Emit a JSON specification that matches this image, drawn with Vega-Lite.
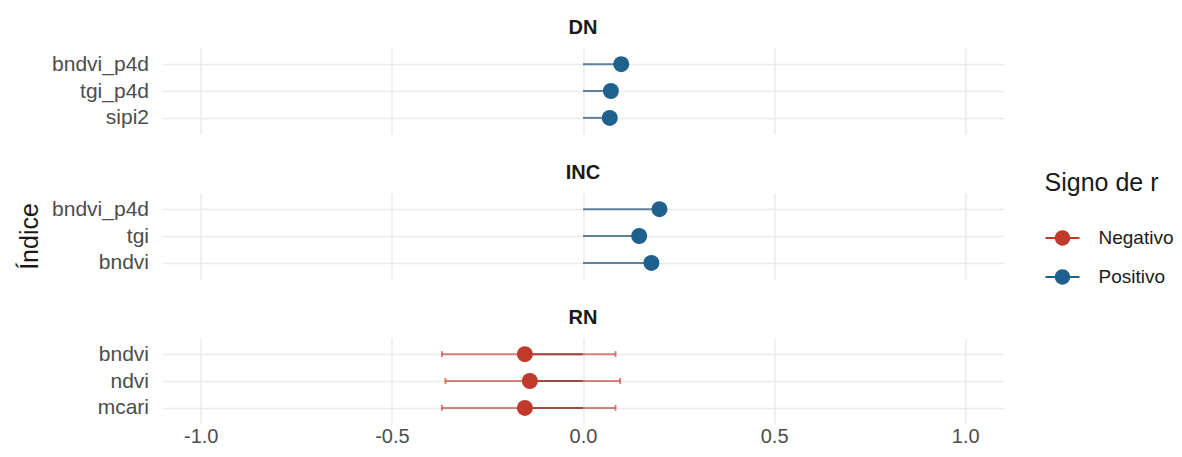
{
  "$schema": "https://vega.github.io/schema/vega-lite/v6.json",
  "padding": {"top": 18, "left": 17.5, "right": 5, "bottom": 5},
  "background": "white",
  "config": {
    "font": "Liberation Sans",
    "view": {"stroke": null},
    "title": {"fontSize": 20, "fontWeight": "bold", "color": "#1a1a1a", "anchor": "middle", "offset": 10},
    "axis": {"labelFont": "Liberation Sans", "titleFont": "Liberation Sans"}
  },
  "datasets": {
    "rows": [
      {"panel": "DN", "indice": "bndvi_p4d", "ord": 1, "r": 0.100, "lo": null, "hi": null, "signo": "Positivo"},
      {"panel": "DN", "indice": "tgi_p4d", "ord": 2, "r": 0.073, "lo": null, "hi": null, "signo": "Positivo"},
      {"panel": "DN", "indice": "sipi2", "ord": 3, "r": 0.070, "lo": null, "hi": null, "signo": "Positivo"},
      {"panel": "INC", "indice": "bndvi_p4d", "ord": 1, "r": 0.200, "lo": null, "hi": null, "signo": "Positivo"},
      {"panel": "INC", "indice": "tgi", "ord": 2, "r": 0.147, "lo": null, "hi": null, "signo": "Positivo"},
      {"panel": "INC", "indice": "bndvi", "ord": 3, "r": 0.179, "lo": null, "hi": null, "signo": "Positivo"},
      {"panel": "RN", "indice": "bndvi", "ord": 1, "r": -0.152, "lo": -0.369, "hi": 0.085, "signo": "Negativo"},
      {"panel": "RN", "indice": "ndvi", "ord": 2, "r": -0.139, "lo": -0.360, "hi": 0.097, "signo": "Negativo"},
      {"panel": "RN", "indice": "mcari", "ord": 3, "r": -0.152, "lo": -0.369, "hi": 0.085, "signo": "Negativo"}
    ]
  },
  "data": {"name": "rows"},
  "bounds": "flush",
  "spacing": 59,
  "resolve": {"scale": {"x": "shared", "y": "independent", "color": "independent"}, "legend": {"color": "independent"}},
  "vconcat": [
    {
      "title": "DN",
      "width": 841, "height": 86,
      "transform": [{"filter": "datum.panel === 'DN'"}],
      "encoding": {
        "y": {"field": "indice", "type": "nominal", "sort": {"field": "ord", "op": "min"}, "scale": {"type": "point", "padding": 0.6},
              "axis": {"title": null, "ticks": false, "domain": false, "labelFontSize": 21, "labelColor": "#4d4d4d", "labelPadding": 14, "grid": true, "gridColor": "#ebebeb", "gridWidth": 1.5}}
      },
      "layer": [
        {
          "mark": {"type": "rule", "strokeWidth": 2, "color": "#5d8199"},
          "encoding": {
            "x": {"field": "r", "type": "quantitative", "scale": {"domain": [-1.1, 1.1], "nice": false, "zero": false},
                  "axis": {"title": null, "labels": false, "ticks": false, "domain": false, "values": [-1, -0.5, 0, 0.5, 1], "grid": true, "gridColor": "#ebebeb", "gridWidth": 1.5}},
            "x2": {"datum": 0}
          }
        },
        {
          "mark": {"type": "point", "filled": true, "opacity": 1, "size": 256},
          "encoding": {
            "x": {"field": "r", "type": "quantitative"},
            "color": {"field": "signo", "type": "nominal", "scale": {"domain": ["Negativo", "Positivo"], "range": ["#C0392B", "#1F618D"]},
                      "legend": {"title": "Signo de r", "orient": "none", "legendX": 882, "legendY": 123, "titleFontSize": 25, "titleFontWeight": "normal", "titleColor": "#1a1a1a", "titlePadding": 24, "labelFontSize": 19, "labelColor": "#1a1a1a", "labelOffset": 18, "rowPadding": 11, "symbolSize": 1156, "symbolOpacity": 1, "symbolType": "M-1,-0.06H1V0.06H-1Z M0.45,0A0.45,0.45,0,1,1,-0.45,0A0.45,0.45,0,1,1,0.45,0Z"}}
          }
        }
      ]
    },
    {
      "title": "INC",
      "width": 841, "height": 86,
      "transform": [{"filter": "datum.panel === 'INC'"}],
      "encoding": {
        "y": {"field": "indice", "type": "nominal", "sort": {"field": "ord", "op": "min"}, "scale": {"type": "point", "padding": 0.6},
              "axis": {"title": "Índice", "titleFontSize": 25, "titleFontWeight": "normal", "titleColor": "#1a1a1a", "titlePadding": 9, "ticks": false, "domain": false, "labelFontSize": 21, "labelColor": "#4d4d4d", "labelPadding": 14, "grid": true, "gridColor": "#ebebeb", "gridWidth": 1.5}}
      },
      "layer": [
        {
          "mark": {"type": "rule", "strokeWidth": 2, "color": "#5d8199"},
          "encoding": {
            "x": {"field": "r", "type": "quantitative", "scale": {"domain": [-1.1, 1.1], "nice": false, "zero": false},
                  "axis": {"title": null, "labels": false, "ticks": false, "domain": false, "values": [-1, -0.5, 0, 0.5, 1], "grid": true, "gridColor": "#ebebeb", "gridWidth": 1.5}},
            "x2": {"datum": 0}
          }
        },
        {
          "mark": {"type": "point", "filled": true, "opacity": 1, "size": 256},
          "encoding": {
            "x": {"field": "r", "type": "quantitative"},
            "color": {"field": "signo", "type": "nominal", "scale": {"domain": ["Negativo", "Positivo"], "range": ["#C0392B", "#1F618D"]}, "legend": null}
          }
        }
      ]
    },
    {
      "title": "RN",
      "width": 841, "height": 86,
      "transform": [{"filter": "datum.panel === 'RN'"}],
      "encoding": {
        "y": {"field": "indice", "type": "nominal", "sort": {"field": "ord", "op": "min"}, "scale": {"type": "point", "padding": 0.6},
              "axis": {"title": null, "ticks": false, "domain": false, "labelFontSize": 21, "labelColor": "#4d4d4d", "labelPadding": 14, "grid": true, "gridColor": "#ebebeb", "gridWidth": 1.5}}
      },
      "layer": [
        {
          "mark": {"type": "rule", "strokeWidth": 2, "color": "#C0392B", "opacity": 0.6},
          "encoding": {
            "x": {"field": "lo", "type": "quantitative", "scale": {"domain": [-1.1, 1.1], "nice": false, "zero": false},
                  "axis": {"title": null, "ticks": false, "domain": false, "values": [-1, -0.5, 0, 0.5, 1], "labelFontSize": 20, "labelColor": "#4d4d4d", "labelPadding": 2,
                           "labelExpr": "datum.value < 0 ? '-' + format(-datum.value, '.1f') : format(datum.value, '.1f')", "grid": true, "gridColor": "#ebebeb", "gridWidth": 1.5}},
            "x2": {"field": "hi"}
          }
        },
        {
          "mark": {"type": "tick", "orient": "vertical", "size": 6, "thickness": 2, "color": "#C0392B", "opacity": 0.6},
          "encoding": {"x": {"field": "lo", "type": "quantitative"}}
        },
        {
          "mark": {"type": "tick", "orient": "vertical", "size": 6, "thickness": 2, "color": "#C0392B", "opacity": 0.6},
          "encoding": {"x": {"field": "hi", "type": "quantitative"}}
        },
        {
          "mark": {"type": "rule", "strokeWidth": 2, "color": "#9d4a44"},
          "encoding": {
            "x": {"field": "r", "type": "quantitative"},
            "x2": {"datum": 0}
          }
        },
        {
          "mark": {"type": "point", "filled": true, "opacity": 1, "size": 256},
          "encoding": {
            "x": {"field": "r", "type": "quantitative"},
            "color": {"field": "signo", "type": "nominal", "scale": {"domain": ["Negativo", "Positivo"], "range": ["#C0392B", "#1F618D"]}, "legend": null}
          }
        }
      ]
    }
  ]
}
